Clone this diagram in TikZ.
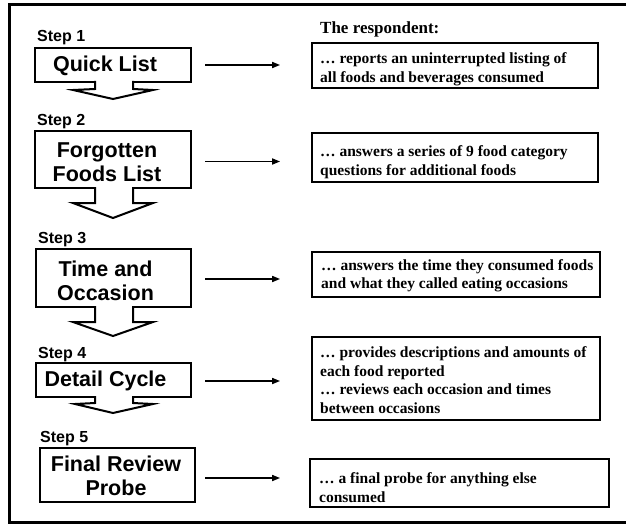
\documentclass[tikz,border=0pt]{standalone}
\usepackage{fontspec}
\setmainfont{Liberation Serif}
\setsansfont{Liberation Sans}
\usetikzlibrary{arrows.meta}
\begin{document}
\begin{tikzpicture}[x=1pt,y=-1pt,
  stepbox/.style={draw,line width=2pt,inner sep=0pt},
  steptext/.style={font=\sffamily\bfseries\fontsize{21.5}{24.5}\selectfont,align=center,inner sep=0pt},
  steplabel/.style={font=\sffamily\bfseries\fontsize{16}{18}\selectfont,anchor=west,inner sep=0pt},
  rbox/.style={draw,line width=1.8pt,inner sep=0pt},
  rtext/.style={font=\rmfamily\bfseries\fontsize{15.5}{18.5}\selectfont,align=left,anchor=west,inner sep=0pt},
  flow/.style={line width=1.6pt,-{Triangle[length=8pt,width=6pt]}},
  downarrow/.style={draw,line width=2pt,fill=white,line join=miter}
]
\useasboundingbox (0,0) rectangle (626,524);
% outer frame (cut at the right edge)
\draw[line width=3pt] (640,5) -- (9,5) -- (9,522) -- (640,522);

% heading
\node[font=\rmfamily\bfseries\fontsize{17}{20}\selectfont,anchor=west,inner sep=0pt] (head) at (320,29) {The respondent:};

% step boxes
\node[stepbox,minimum width=156pt,minimum height=34pt] (s1) at (113,65) {};
\node[stepbox,minimum width=156pt,minimum height=57pt] (s2) at (113,159.5) {};
\node[stepbox,minimum width=155pt,minimum height=58pt] (s3) at (113.5,278) {};
\node[stepbox,minimum width=155pt,minimum height=34pt] (s4) at (113.5,380) {};
\node[stepbox,minimum width=155pt,minimum height=54pt] (s5) at (117.5,475) {};

\node[steptext] (t1) at (105,66) {Quick List};
\node[steptext] (t2) at (107,162) {Forgotten\\Foods List};
\node[steptext] (t3) at (105.5,281) {Time and\\Occasion};
\node[steptext] (t4) at (105.5,381) {Detail Cycle};
\node[steptext] (t5) at (116,476) {Final Review\\Probe};

\node[steplabel] (l1) at (37,38) {Step 1};
\node[steplabel] (l2) at (37,122) {Step 2};
\node[steplabel] (l3) at (38,240) {Step 3};
\node[steplabel] (l4) at (38,355) {Step 4};
\node[steplabel] (l5) at (40,439) {Step 5};

% down arrows
\draw[downarrow] (95,81) -- (95,89) -- (73,90) -- (113,99) -- (153,90) -- (133,89) -- (133,81);
\draw[downarrow] (95,187) -- (95,203) -- (73,203) -- (113,218) -- (153,203) -- (133,203) -- (133,187);
\draw[downarrow] (95,306) -- (95,322) -- (73,322) -- (113,336) -- (153,322) -- (133,322) -- (133,306);
\draw[downarrow] (95,396) -- (95,403) -- (75,404) -- (113,413) -- (153,404) -- (133,403) -- (133,396);

% right boxes
\node[rbox,minimum width=286pt,minimum height=45pt] (r1) at (455,65.5) {};
\node[rbox,minimum width=286pt,minimum height=49pt] (r2) at (455,157.5) {};
\node[rbox,minimum width=288pt,minimum height=45pt] (r3) at (456,274.5) {};
\node[rbox,minimum width=288pt,minimum height=83pt] (r4) at (456,378.5) {};
\node[rbox,minimum width=299pt,minimum height=48pt] (r5) at (459.5,483) {};

\node[rtext] (rt1) at (320,69.5) {… reports an uninterrupted listing of\\all foods and beverages consumed};
\node[rtext] (rt2) at (320,162) {… answers a series of 9 food category\\questions for additional foods};
\node[rtext] (rt3) at (321,276) {… answers the time they consumed foods\\and what they called eating occasions};
\node[rtext] (rt4) at (320,380) {… provides descriptions and amounts of\\each food reported\\… reviews each occasion and times\\between occasions};
\node[rtext] (rt5) at (319,487.5) {… a final probe for anything else\\consumed};

% connectors
\draw[flow,shorten <=13pt,shorten >=31pt] (s1.east) -- (s1.east -| r1.west);
\draw[flow,shorten <=13pt,shorten >=31pt] ([yshift=-2pt]s2.east) -- ([yshift=-2pt]s2.east -| r2.west);
\draw[flow,shorten <=13pt,shorten >=31pt] ([yshift=-1pt]s3.east) -- ([yshift=-1pt]s3.east -| r3.west);
\draw[flow,shorten <=13pt,shorten >=31pt] ([yshift=-1pt]s4.east) -- ([yshift=-1pt]s4.east -| r4.west);
\draw[flow,shorten <=9pt,shorten >=29pt] ([yshift=-3pt]s5.east) -- ([yshift=-3pt]s5.east -| r5.west);
\end{tikzpicture}
\end{document}
